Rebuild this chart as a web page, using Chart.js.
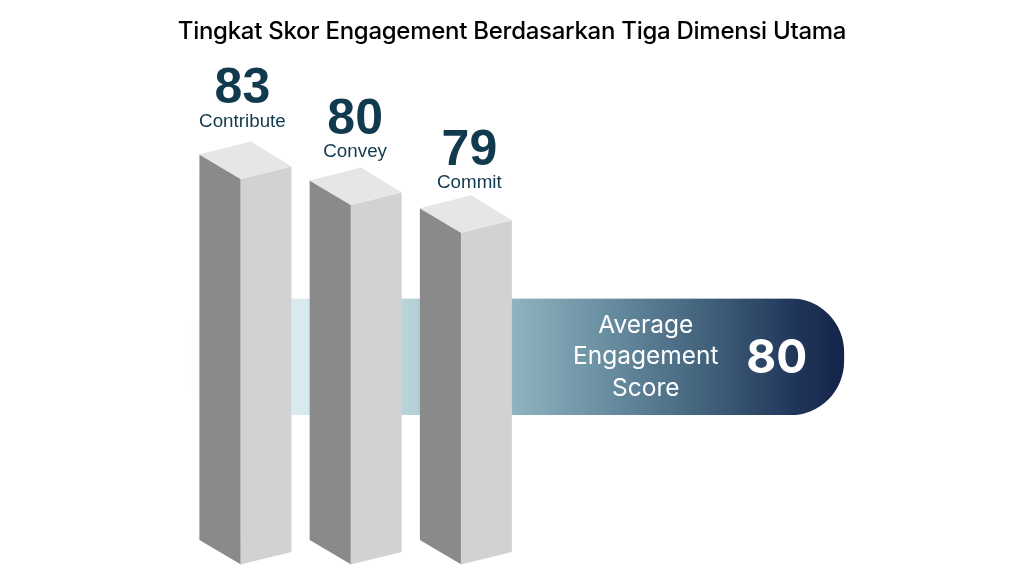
<!DOCTYPE html>
<html>
<head>
<meta charset="utf-8">
<title>Tingkat Skor Engagement</title>
<script src="https://cdn.jsdelivr.net/npm/chart.js@4/dist/chart.umd.min.js"></script>
<style>
    body { margin: 0; background: #fff; }
    #wrap { position: relative; width: 1024px; height: 576px; overflow: hidden; }
    #wrap canvas { position: absolute; left: 0; top: 0; }
    #title {
        position: absolute; left: 0; top: 16px; width: 1024px; text-align: center;
        font: 500 24px/30px Inter, sans-serif; letter-spacing: -0.27px; color: #000;
    }
</style>
</head>
<body>
<div id="wrap">
    <canvas id="bandChart" width="1024" height="576"></canvas>
    <canvas id="columnChart" width="1024" height="576"></canvas>
    <div id="title">Tingkat Skor Engagement Berdasarkan Tiga Dimensi Utama</div>
</div>
<script>
const dimensions = ['Contribute', 'Convey', 'Commit'];
const scores = [83, 80, 79];
// the columns in the picture are not in proportion to their scores, so their heights are read off separately
const columnHeights = [83, 77.4, 71.4];
const averageScore = 80;
const averageLabel = ['Average', 'Engagement', 'Score'];

const TEXT_DARK = '#123a4f';
const LABEL_FONT = '"Liberation Sans", Arial, sans-serif';

// Полоса среднего значения
const bandText = {
    id: 'bandText',
    afterDatasetsDraw(chart) {
        const el = chart.getDatasetMeta(0).data[0];
        const ctx = chart.ctx;
        ctx.save();
        ctx.fillStyle = '#fff';
        ctx.textAlign = 'center';
        ctx.font = '24.5px Inter, sans-serif';
        averageLabel.forEach((line, i) => {
            ctx.fillText(line, el.x - 198, el.y - 24 + i * 31.5);
        });
        ctx.font = 'bold 46px Inter, sans-serif';
        ctx.fillText(averageScore, el.x - 67, el.y + 16.5);
        ctx.restore();
    }
};

new Chart(document.getElementById('bandChart'), {
    type: 'bar',
    data: {
        labels: ['Average'],
        datasets: [{
            data: [averageScore],
            categoryPercentage: 1,
            barPercentage: 1,
            borderSkipped: false,
            borderRadius: 54,
            backgroundColor(context) {
                const area = context.chart.chartArea;
                if (!area) return '#8fb3bf';
                const scale = context.chart.scales.x;
                const g = context.chart.ctx.createLinearGradient(scale.getPixelForValue(0), 0, scale.getPixelForValue(averageScore), 0);
                g.addColorStop(0, '#ffffff');
                g.addColorStop(0.17, '#d9ebef');
                g.addColorStop(0.345, '#b6d2d8');
                g.addColorStop(0.5, '#8fb3bf');
                g.addColorStop(0.63, '#6b91a3');
                g.addColorStop(0.78, '#45657f');
                g.addColorStop(0.93, '#1f3558');
                g.addColorStop(1, '#14234a');
                return g;
            }
        }]
    },
    options: {
        indexAxis: 'y',
        responsive: false,
        animation: false,
        layout: { padding: { left: 183, right: 15, top: 298.5, bottom: 161 } },
        scales: {
            x: { display: false, min: 0, max: 100 },
            y: { display: false }
        },
        plugins: { legend: { display: false }, tooltip: { enabled: false } }
    },
    plugins: [bandText]
});

// Колонны рисуем сами поверх элементов графика
const columnFaces = {
    id: 'columnFaces',
    afterDatasetsDraw(chart) {
        const ctx = chart.ctx;
        const poly = (color, pts) => {
            ctx.fillStyle = color;
            ctx.beginPath();
            pts.forEach((p, i) => i ? ctx.lineTo(p[0], p[1]) : ctx.moveTo(p[0], p[1]));
            ctx.closePath();
            ctx.fill();
        };
        chart.getDatasetMeta(0).data.forEach((el, i) => {
            const left = el.x - el.width / 2;
            const right = el.x + el.width / 2;
            const front = left + 41;
            const back = left + 51.5;
            poly('#8a8a8a', [[left, el.y - 24.5], [front + 0.5, el.y], [front + 0.5, el.base], [left, el.base - 24.5]]);
            poly('#d1d2d4', [[front, el.y], [right, el.y - 12.5], [right, el.base - 12.5], [front, el.base]]);
            poly('#e5e6e7', [[left, el.y - 24.5], [back, el.y - 37.5], [right, el.y - 12.5], [front, el.y]]);

            // подписи
            const nudge = [-3, -0.5, 3.5][i];
            ctx.save();
            ctx.fillStyle = TEXT_DARK;
            ctx.textAlign = 'center';
            ctx.font = 'bold 50px ' + LABEL_FONT;
            ctx.fillText(scores[i], el.x + nudge, el.y - [76, 71, 68][i]);
            ctx.font = '18.8px ' + LABEL_FONT;
            ctx.fillText(dimensions[i], el.x + nudge, el.y - [52, 47.5, 44.5][i]);
            ctx.restore();
        });
    }
};

new Chart(document.getElementById('columnChart'), {
    type: 'bar',
    data: {
        labels: dimensions,
        datasets: [{
            data: columnHeights,
            barThickness: 92,
            backgroundColor: 'transparent'
        }]
    },
    options: {
        responsive: false,
        animation: false,
        layout: { padding: { left: 190.3, right: 503, top: 100, bottom: 11.5 } },
        scales: {
            x: { display: false },
            y: { display: false, min: 0, max: 100 }
        },
        plugins: { legend: { display: false }, tooltip: { enabled: false } }
    },
    plugins: [columnFaces]
});
</script>
</body>
</html>
